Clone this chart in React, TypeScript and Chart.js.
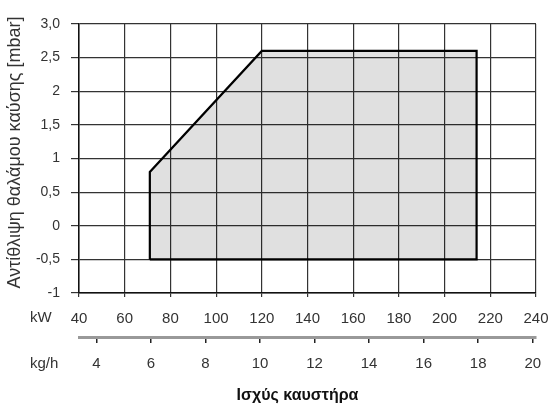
import { useEffect, useRef } from 'react';
import { Chart, registerables } from 'chart.js';

Chart.register(...registerables);

// ---- data ----
const kwTicks = [40, 60, 80, 100, 120, 140, 160, 180, 200, 220, 240];
const kgTicks = [4, 6, 8, 10, 12, 14, 16, 18, 20];
const kgRange = [3.36, 20.12];
const mbarTicks = [-1, -0.5, 0, 0.5, 1, 1.5, 2, 2.5, 3];
const mbarTickLabels = ['-1', '-0,5', '0', '0,5', '1', '1,5', '2', '2,5', '3,0'];
const envelopeKw = [71, 71, 120, 214, 214, 71];
const envelopeMbar = [-0.5, 0.8, 2.6, 2.6, -0.5, -0.5];
const yTitle = 'Αντίθλιψη θαλάμου καύσης [mbar]';
const xTitle = 'Ισχύς καυστήρα';
const kwUnit = 'kW';
const kgUnit = 'kg/h';

const FAMILY = '"Liberation Sans", Arial, sans-serif';

const extraLabels = {
  id: 'extraLabels',
  afterDraw(chart: any) {
    const { ctx, chartArea, scales } = chart;
    ctx.save();
    ctx.fillStyle = '#333';
    ctx.textBaseline = 'middle';
    ctx.textAlign = 'left';
    ctx.font = `15px ${FAMILY}`;
    ctx.fillText(kwUnit, chartArea.left - 49, scales.x.top + 25);
    ctx.fillText(kgUnit, chartArea.left - 49, scales.x2.top + 27);
    ctx.textAlign = 'center';
    ctx.fillStyle = '#111';
    ctx.font = `bold 16px ${FAMILY}`;
    ctx.fillText(xTitle, (chartArea.left + chartArea.right) / 2 - 10, scales.x2.bottom - 16);
    // y axis title, rotated
    ctx.translate(15, (chartArea.top + chartArea.bottom) / 2 - 6);
    ctx.rotate(-Math.PI / 2);
    ctx.fillStyle = '#333';
    ctx.font = `18px ${FAMILY}`;
    ctx.fillText(yTitle, 0, 0);
    ctx.restore();
  },
};

export default function App() {
  const ref = useRef<HTMLCanvasElement>(null);
  useEffect(() => {
    document.body.style.margin = '0';
    const canvas = ref.current!;
    const chart = new Chart(canvas, {
      type: 'scatter',
      data: {
        datasets: [
          {
            data: envelopeKw.map((x, i) => ({ x, y: envelopeMbar[i] })),
            showLine: true,
            borderColor: '#000',
            borderWidth: 2.2,
            borderJoinStyle: 'miter',
            backgroundColor: 'rgba(0,0,0,0.12)',
            fill: 'shape',
            pointRadius: 0,
            tension: 0,
          } as any,
        ],
      },
      options: {
        animation: false,
        responsive: false,
        layout: { padding: { top: 24, right: 0, bottom: 0, left: 0 } },
        plugins: { legend: { display: false }, tooltip: { enabled: false } },
        scales: {
          x: {
            type: 'linear',
            position: 'bottom',
            min: 40,
            max: 240,
            weight: 0,
            afterBuildTicks: (s: any) => {
              s.ticks = kwTicks.map((v) => ({ value: v }));
            },
            afterFit: (s: any) => {
              s.height = 44;
              s.paddingRight = 12;
              s.paddingLeft = 0;
            },
            grid: { color: '#333', lineWidth: 1.2, tickLength: 4 },
            border: { display: true, color: '#111', width: 1.5 },
            ticks: {
              padding: 13,
              color: '#333',
              autoSkip: false,
              maxRotation: 0,
              font: { family: FAMILY, size: 15 },
            },
          },
          x2: {
            type: 'linear',
            position: 'bottom',
            min: kgRange[0],
            max: kgRange[1],
            weight: 1,
            afterBuildTicks: (s: any) => {
              s.ticks = kgTicks.map((v) => ({ value: v }));
            },
            afterFit: (s: any) => {
              s.height = 75;
              s.paddingRight = 12;
              s.paddingLeft = 0;
            },
            grid: { drawOnChartArea: false, color: '#222', lineWidth: 1.5, tickLength: 6 },
            border: { display: true, color: '#999', width: 3 },
            ticks: {
              padding: 12,
              color: '#333',
              autoSkip: false,
              maxRotation: 0,
              font: { family: FAMILY, size: 15 },
            },
          },
          y: {
            type: 'linear',
            min: -1,
            max: 3,
            afterBuildTicks: (s: any) => {
              s.ticks = mbarTicks.map((v) => ({ value: v }));
            },
            afterFit: (s: any) => {
              s.width = 79;
            },
            grid: { color: '#333', lineWidth: 1.2, tickLength: 8 },
            border: { display: true, color: '#111', width: 1.5 },
            ticks: {
              padding: 11,
              color: '#333',
              autoSkip: false,
              font: { family: FAMILY, size: 14 },
              callback: (v: any) => {
                const i = mbarTicks.indexOf(Number(v));
                return i >= 0 ? mbarTickLabels[i] : '';
              },
            },
          },
        },
      },
      plugins: [extraLabels],
    });
    return () => chart.destroy();
  }, []);
  return <canvas ref={ref} width={548} height={412} style={{ display: 'block' }} />;
}
